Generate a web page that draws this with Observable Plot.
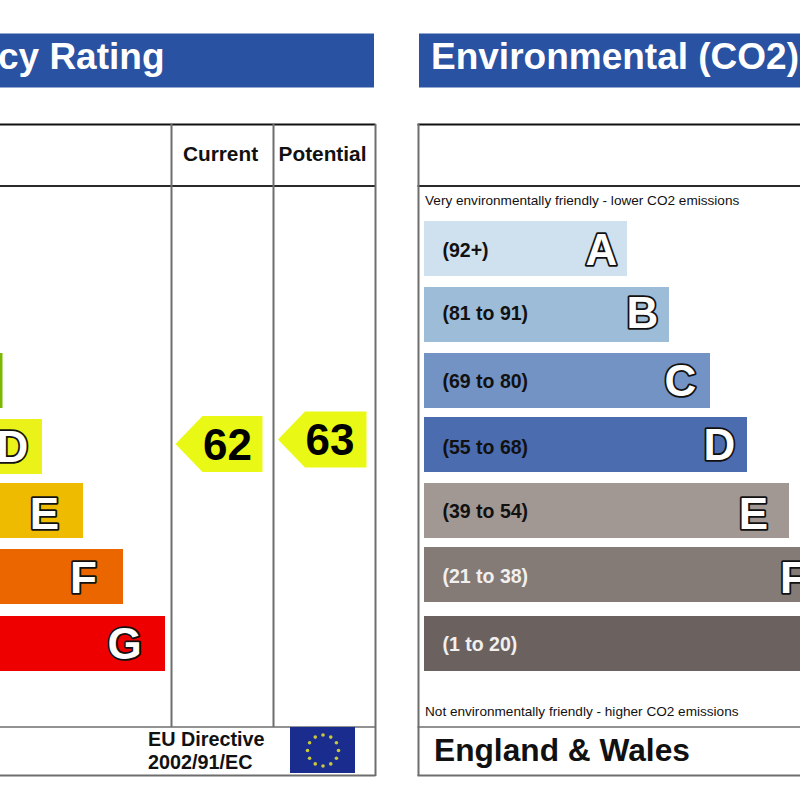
<!DOCTYPE html>
<html><head><meta charset="utf-8">
<script src="https://cdn.jsdelivr.net/npm/d3@7"></script>
<script src="https://cdn.jsdelivr.net/npm/@observablehq/plot@0.6"></script>
<style>html,body{margin:0;padding:0;background:#fff}svg{display:block}</style>
</head><body><div id="chart"></div>
<script>
// Data
const bands = ["A","B","C","D","E","F","G"];
const co2Ranges = ["(92+)","(81 to 91)","(69 to 80)","(55 to 68)","(39 to 54)","(21 to 38)","(1 to 20)"];
const barLengths = [203,245,286,323,365,405,447];
const energyBands = ["C","D","E","F","G"];
const energyLengths = [284.5,324,365,405,447];
const currentRating = 62;
const potentialRating = 63;
const columnHeads = ["Current","Potential"];

// Layout and style
const font = "Liberation Sans, Arial, sans-serif";
const co2Colors = ["#cfe0ee","#9cbcd8","#7293c4","#4c6cb0","#a19894","#847a76","#6b6260"];
const co2Ink = ["#111","#111","#111","#111","#111","#f2f0ee","#f2f0ee"];
const co2Tops = [221,287,353,417,483,547,616];
const co2LetterX = [601,642,680,719,753,793,835];
const co2LetterY = [250,313,381,445,514,578,644];
const co2RangeY = [250,313,381,447,511,576,644];
const energyColors = {C:"#7db800",D:"#eaf21a",E:"#efbb00",F:"#ec6600",G:"#ee0000"};
const energyTops = {C:353,D:419,E:483,F:549,G:616};
const energyLetterX = {D:12,E:44,F:83,G:124};
const energyLetterY = {D:447,E:514,F:578,G:644};
const energyStart = -282, co2Start = 424, barH = 55;
const blue = "#2a52a2", line = "#6e6e6e", dark = "#2a2a2a";
const letterStyle = {fill:"#fff",stroke:"#111",strokeWidth:3.6,fontSize:44,fontWeight:"bold"};

const co2 = bands.map((b,i)=>({b,range:co2Ranges[i],len:barLengths[i],fill:co2Colors[i],ink:co2Ink[i],top:co2Tops[i],lx:co2LetterX[i],ly:co2LetterY[i],ry:co2RangeY[i]}));
const energy = energyBands.map((b,i)=>({b,len:energyLengths[i],fill:energyColors[b],top:energyTops[b],lx:energyLetterX[b],ly:energyLetterY[b]}));

const arrow = (rating,left,right,mid,halfH,head) => [
  [left,mid],[left+head,mid-halfH],[right,mid-halfH],[right,mid+halfH],[left+head,mid+halfH],[left,mid]
].map(([x,y])=>({rating,x,y}));
const arrows = [
  {rating:currentRating,left:175,right:262,mid:443.5,text:227,ty:445},
  {rating:potentialRating,left:277.5,right:366,mid:439,text:329.5,ty:440}
];
const arrowPts = arrows.flatMap(a=>arrow(a.rating,a.left,a.right,a.mid,28,27));

const stars = d3.range(12).map(i=>({x:322.5+15.5*Math.sin(i*Math.PI/6),y:750-15.5*Math.cos(i*Math.PI/6)}));
const spans = [{x1:-2,x2:375.5},{x1:417.5,x2:802}];

const chart = Plot.plot({
  width:800,height:800,margin:0,
  style:{background:"#fff",fontFamily:font},
  x:{domain:[0,800],range:[0,800],axis:null},
  y:{domain:[0,800],range:[0,800],axis:null},
  marks:[
    // title bands
    Plot.rect([{x1:-2,x2:374},{x1:419,x2:802}],{x1:"x1",x2:"x2",y1:()=>33.5,y2:()=>87.5,fill:blue}),
    Plot.text(["Energy Efficiency Rating"],{x:()=>164,y:()=>56.5,textAnchor:"end",fill:"#fff",fontSize:37,fontWeight:"bold"}),
    Plot.text(["Environmental (CO2) Impact Rating"],{x:()=>430.5,y:()=>56.5,textAnchor:"start",fill:"#fff",fontSize:37,fontWeight:"bold"}),

    // frame lines
    Plot.ruleY(spans,{x1:"x1",x2:"x2",y:()=>124,stroke:"#111",strokeWidth:2}),
    Plot.ruleY(spans,{x1:"x1",x2:"x2",y:()=>185.5,stroke:dark,strokeWidth:2}),
    Plot.ruleY(spans,{x1:"x1",x2:"x2",y:()=>726.5,stroke:line,strokeWidth:1.5}),
    Plot.ruleY(spans,{x1:"x1",x2:"x2",y:()=>775,stroke:line,strokeWidth:2}),
    Plot.ruleX([171,273],{x:d=>d,y1:()=>124,y2:()=>727,stroke:line,strokeWidth:2}),
    Plot.ruleX([375,418],{x:d=>d,y1:()=>124,y2:()=>776,stroke:line,strokeWidth:2}),

    // column heads
    Plot.text(columnHeads,{x:(d,i)=>[220,322][i],y:()=>154,fill:"#111",fontSize:20.8,fontWeight:"bold"}),

    // energy bars
    Plot.rect(energy,{x1:()=>energyStart,x2:d=>energyStart+d.len,y1:"top",y2:d=>d.top+barH,fill:"fill"}),
    Plot.text(energy.filter(d=>d.b!=="C"),{text:"b",x:"lx",y:"ly",...letterStyle}),

    // rating arrows
    Plot.line(arrowPts,{x:"x",y:"y",z:"rating",fill:"#e9f815",stroke:"none"}),
    Plot.text(arrows,{text:"rating",x:"text",y:"ty",fill:"#000",fontSize:44,fontWeight:"bold"}),

    // footer left
    Plot.text(["EU Directive","2002/91/EC"],{x:()=>147.5,y:(d,i)=>[739,762][i],textAnchor:"start",fill:"#111",fontSize:19.8,fontWeight:"bold"}),
    Plot.rect([0],{x1:()=>290,x2:()=>355,y1:()=>727,y2:()=>773,fill:"#1a2d8e"}),
    Plot.dot(stars,{x:"x",y:"y",r:1.8,fill:"#c9c93a"}),

    // CO2 panel
    Plot.text(["Very environmentally friendly - lower CO2 emissions"],{x:()=>424.5,y:()=>200.5,textAnchor:"start",fill:"#111",fontSize:13.6}),
    Plot.rect(co2,{x1:()=>co2Start,x2:d=>co2Start+d.len,y1:"top",y2:d=>d.top+barH,fill:"fill"}),
    Plot.text(co2,{text:"range",x:()=>442,y:"ry",textAnchor:"start",fill:"ink",fontSize:19.5,fontWeight:"bold"}),
    Plot.text(co2,{text:"b",x:"lx",y:"ly",...letterStyle}),
    Plot.text(["Not environmentally friendly - higher CO2 emissions"],{x:()=>424.5,y:()=>711.5,textAnchor:"start",fill:"#111",fontSize:13.6}),
    Plot.text(["England & Wales"],{x:()=>433.5,y:()=>750,textAnchor:"start",fill:"#111",fontSize:31.7,fontWeight:"bold"})
  ]
});
document.getElementById("chart").append(chart);
</script></body></html>
